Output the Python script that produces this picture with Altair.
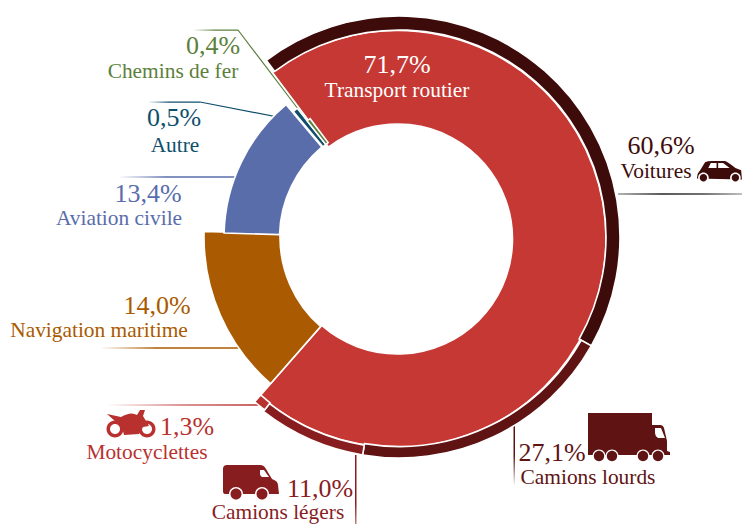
import altair as alt
import pandas as pd
import math

# ---- data ----
main_names = ["Transport routier", "Navigation maritime", "Aviation civile", "Autre", "Chemins de fer"]
main_values = [71.7, 14.0, 13.4, 0.5, 0.4]
road_names = ["Voitures", "Camions lourds", "Camions légers", "Motocyclettes"]
road_values = [60.6, 27.1, 11.0, 1.3]
road_share = 71.7

label_pct = ["71,7%", "60,6%", "27,1%", "11,0%", "1,3%", "14,0%", "13,4%", "0,5%", "0,4%"]
label_name = ["Transport routier", "Voitures", "Camions lourds", "Camions légers", "Motocyclettes",
              "Navigation maritime", "Aviation civile", "Autre", "Chemins de fer"]

# ---- layout and style ----
FONT = "Liberation Serif"
RED, BROWN, BLUE, TEAL, GREEN = "#c53833", "#aa5a00", "#5a6dab", "#0f4f6c", "#5c7f3c"
DARK, LOURD, LEGER, MOTO = "#3e0b0b", "#601313", "#871d1f", "#b8312f"

main_style = {"Transport routier": (RED, 115, 208.5, 397.5, 239), "Navigation maritime": (BROWN, 119, 195, 399, 237),
              "Aviation civile": (BLUE, 119, 174.5, 398.5, 238), "Autre": (TEAL, 118, 164, 399, 237),
              "Chemins de fer": (GREEN, 118, 148, 399, 237)}
road_style = {"Voitures": (DARK, 207, 221, 399, 237), "Camions lourds": (LOURD, 209.5, 221, 399, 237),
              "Camions légers": (LEGER, 211, 221, 399, 237), "Motocyclettes": (MOTO, 210, 219, 399, 237)}

xs = alt.Scale(domain=[8, 742], range=[0, 734])
ys = alt.Scale(domain=[8, 524], range=[0, 516])
start_angle = math.radians(323.1)
ts = alt.Scale(domain=[0, 100], range=[start_angle, start_angle + 2 * math.pi])


def slices(names, values, style):
    rows, acc = [], 0.0
    for n, v in zip(names, values):
        c, r0, r1, cx, cy = style[n]
        rows.append(dict(name=n, start=acc, end=acc + v, color=c, inner=r0, outer=r1, cx=cx, cy=cy))
        acc += v
    return rows


arc_rows = slices(main_names, main_values, main_style) + \
    slices(road_names, [v * road_share / 100 for v in road_values], road_style)

arcs = alt.Chart(pd.DataFrame(arc_rows)).mark_arc(stroke="white", strokeWidth=1.6).encode(
    x=alt.X("cx:Q", scale=xs, axis=None),
    y=alt.Y("cy:Q", scale=ys, axis=None),
    theta=alt.Theta("start:Q", scale=ts, stack=None),
    theta2=alt.Theta2("end:Q"),
    radius=alt.Radius("outer:Q", scale=None),
    radius2=alt.Radius2("inner:Q"),
    color=alt.Color("color:N", scale=None, legend=None),
)


# ---- leader lines ----
def fade(color, x0, x1, y0, y1, stops, vertical=False):
    grad = alt.LinearGradient(
        gradient="linear", x1=0, y1=0, x2=0 if vertical else 1, y2=1 if vertical else 0,
        stops=[alt.GradientStop(offset=o, color=c) for o, c in stops])
    return alt.Chart(pd.DataFrame([dict(a=x0, b=x1, c=y0, d=y1)])).mark_rect(fill=grad).encode(
        x=alt.X("a:Q", scale=xs, axis=None), x2="b:Q",
        y=alt.Y("c:Q", scale=ys, axis=None), y2="d:Q")


def seg(color, x0, y0, x1, y1, w=1.2):
    return alt.Chart(pd.DataFrame([dict(a=x0, b=x1, c=y0, d=y1)])).mark_rule(color=color, strokeWidth=w).encode(
        x=alt.X("a:Q", scale=xs, axis=None), x2="b:Q",
        y=alt.Y("c:Q", scale=ys, axis=None), y2="d:Q")


leaders = [
    fade(GREEN, 193, 238, 29.5, 30.8, [(0, "#ffffff"), (0.5, GREEN), (1, GREEN)]),
    seg(GREEN, 238, 30, 324, 143),
    fade(TEAL, 148, 200, 101.5, 102.8, [(0, "#ffffff"), (0.4, TEAL), (1, TEAL)]),
    seg(TEAL, 200, 102, 298, 121),
    fade(BLUE, 118, 237, 176.3, 177.8, [(0, "#ffffff"), (0.4, BLUE), (1, BLUE)]),
    fade(BROWN, 100, 241, 347.3, 348.8, [(0, "#ffffff"), (0.4, BROWN), (1, BROWN)]),
    fade(MOTO, 106, 258, 404.3, 405.8, [(0, "#ffffff"), (0.5, "#cf7070"), (1, MOTO)]),
    fade(LEGER, 355, 356.5, 455, 524, [(0, LEGER), (0.7, LEGER), (1, "#c08080")], vertical=True),
    fade(LOURD, 513.5, 515, 424, 486, [(0, LOURD), (0.5, LOURD), (1, "#ffffff")], vertical=True),
    fade("#333333", 618, 742, 193.2, 194.8, [(0, "#999999"), (0.35, "#222222"), (0.7, "#444444"), (1, "#aaaaaa")]),
]


# ---- icons: outlines in pixels around their centre ----
def circ(x, y, r):
    return f"M{x - r},{y}A{r},{r} 0 1,1 {x + r},{y}A{r},{r} 0 1,1 {x - r},{y}Z"


def icon(x, y, parts, k=1.0):
    layers = []
    for path, color in parts:
        layers.append(alt.Chart(pd.DataFrame([dict(a=x, b=y)])).mark_point(
            shape=path, size=4 * k * k, filled=True, color=color, opacity=1, stroke=None).encode(
            x=alt.X("a:Q", scale=xs, axis=None), y=alt.Y("b:Q", scale=ys, axis=None)))
    return layers


W = "#ffffff"
car = [
    ("M-27,8L-26,2L-23,-2L-17,-12Q-14,-13.5 -9,-13.5L7,-13.5Q10,-13 20,-5L27,-2L28,9Z", DARK),
    ("M-13,-5L-10,-11L-3,-11L-3,-5ZM-1,-11L5,-11L13,-5L-1,-5Z", W),
    (circ(-19, 7, 6.5), W), (circ(-19, 7, 4.5), DARK),
    (circ(20, 7, 6.5), W), (circ(20, 7, 4.5), DARK),
]
van = [
    ("M-27,-13Q-27,-17 -23,-17L10,-17Q14,-17 16,-13L22,-3Q28,-1 28,3L29,12L-25,12Q-27,12 -27,9Z", LEGER),
    ("M10,-12L14,-12L19,-5L12,-5Q10,-6 10,-8Z", W),
    (circ(-14, 12, 7), W), (circ(-14, 12, 5.5), LEGER),
    (circ(12, 12, 7), W), (circ(12, 12, 5.5), LEGER),
]
truck = [
    ("M-40,-23L24,-23L24,-11L32,-11Q35,-11 36,-8L39,5L39,15L42,16L42,19L-40,19Z", LOURD),
    ("M27,-8L33,-8L37,2L30,2Q27,0 27,-3Z", W),
    (circ(-29, 20, 6.5), W), (circ(-29, 20, 5.2), LOURD),
    (circ(-16, 20, 6.5), W), (circ(-16, 20, 5.2), LOURD),
    (circ(15, 20, 6.5), W), (circ(15, 20, 5.2), LOURD),
    (circ(30, 20, 6.5), W), (circ(30, 20, 5.2), LOURD),
]
moto = [
    (circ(-16, 5, 8.5), MOTO), (circ(-16, 5, 5), W),
    (circ(16, 5, 8.5), MOTO), (circ(16, 5, 5), W),
    ("M-24,-10L-10,-7Q0,-13 6,-9L9,-14L14,-14L12,-8L18,2L12,3L8,10L-7,11L-9,3L-15,-2Z", MOTO),
]
icons = icon(719, 172, car, 0.82) + icon(250, 482, van) + icon(628, 436, truck) + icon(131, 424, moto)

# ---- texts ----
pct_x = [397, 661, 552, 320, 187, 157, 148, 174, 213]
pct_y = [73, 154, 461, 497, 435, 314, 202, 126, 54]
name_x = [397, 656, 588, 278, 147, 99, 119, 175, 173]
name_y = [97, 178, 484, 519, 459, 337, 225, 152, 78]
text_col = [W, DARK, LOURD, LEGER, MOTO, BROWN, BLUE, TEAL, GREEN]


def texts(labels, xv, yv, size):
    df = pd.DataFrame(dict(t=labels, a=xv, b=yv, c=text_col))
    return alt.Chart(df).mark_text(font=FONT, fontSize=size, align="center", baseline="alphabetic").encode(
        x=alt.X("a:Q", scale=xs, axis=None), y=alt.Y("b:Q", scale=ys, axis=None),
        text="t:N", color=alt.Color("c:N", scale=None, legend=None))


chart = alt.layer(
    *leaders, arcs, *icons,
    texts(label_pct, pct_x, pct_y, 26),
    texts(label_name, name_x, name_y, 21.4),
).properties(
    width=734, height=516, padding=0, background="white",
    autosize=alt.AutoSizeParams(type="none"),
).configure_view(stroke=None)

chart.save("out.html", embed_options={"renderer": "svg", "actions": False})
